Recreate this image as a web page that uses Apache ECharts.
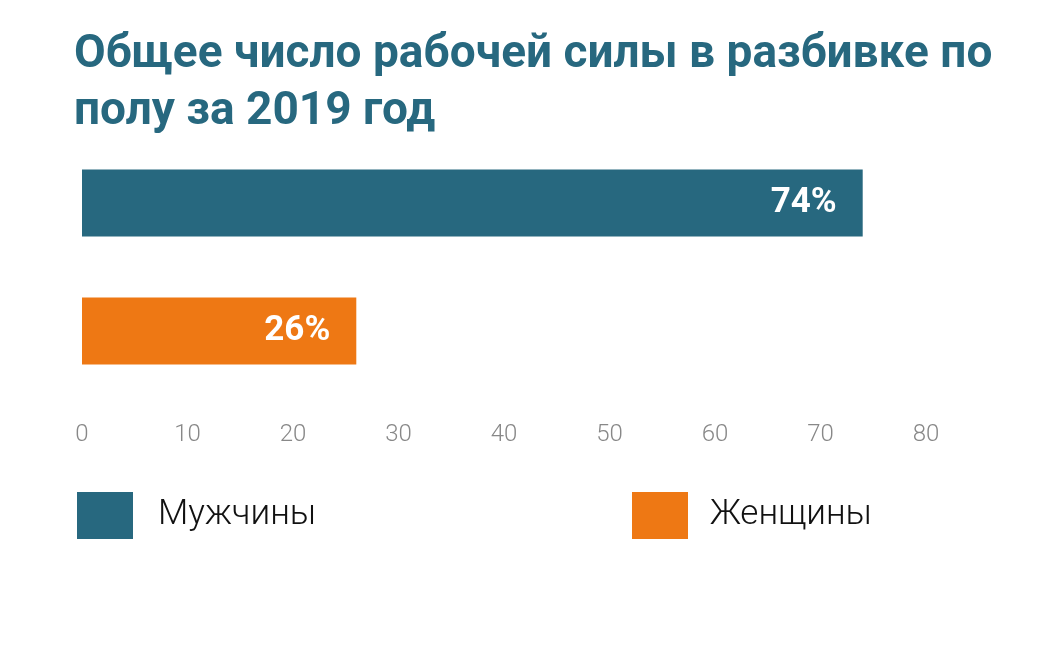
<!DOCTYPE html>
<html>
<head>
<meta charset="utf-8">
<script src="https://cdn.jsdelivr.net/npm/echarts@6/dist/echarts.min.js"></script>
<style>
  html, body { margin: 0; padding: 0; background: #fff; }
  #chart { width: 1058px; height: 654px; }
</style>
</head>
<body>
<div id="chart"></div>
<script>
// данные
var categories = ['Мужчины', 'Женщины'];
var shares = [74, 26];
var barColors = ['#27687f', '#ee7814'];
var titleText = 'Общее число рабочей силы в разбивке по\nполу за 2019 год';

var chart = echarts.init(document.getElementById('chart'));

// одна серия на категорию, чтобы легенда показывала обе
var series = [];
for (var i = 0; i < categories.length; i++) {
  var d = [];
  for (var j = 0; j < categories.length; j++) {
    d.push(i === j ? shares[i] : '-');
  }
  series.push({
    name: categories[i],
    type: 'bar',
    stack: 'all',
    barWidth: 67,
    data: d,
    itemStyle: { color: barColors[i] },
    label: {
      show: true,
      position: 'insideRight',
      distance: 26,
      formatter: '{c}%',
      color: '#fff',
      fontSize: 35,
      fontWeight: 'bold',
      fontFamily: 'Roboto'
    }
  });
}

function legendItem(name, left, pad) {
  return {
    data: [name],
    left: left,
    top: 487,
    itemWidth: 56,
    itemHeight: 47,
    itemGap: 0,
    icon: 'rect',
    textStyle: { fontSize: 35, color: '#111', fontFamily: 'Roboto', fontWeight: 300, padding: [0, 0, 0, pad] }
  };
}

var option = {
  animation: false,
  title: {
    text: titleText,
    left: 69,
    top: 22,
    textStyle: {
      color: '#27687f',
      fontSize: 46,
      fontWeight: 'bold',
      fontFamily: 'Roboto',
      lineHeight: 57
    }
  },
  legend: [
    legendItem(categories[0], 72, 20),
    legendItem(categories[1], 627, 17)
  ],
  grid: { left: 82, right: 132, top: 139, height: 256, containLabel: false },
  xAxis: {
    type: 'value',
    min: 0,
    max: 80,
    interval: 10,
    splitLine: { show: false },
    axisLine: { show: false },
    axisTick: { show: false },
    axisLabel: { color: '#888', fontSize: 24, fontFamily: 'Roboto', fontWeight: 300, margin: 28 }
  },
  yAxis: {
    type: 'category',
    data: categories,
    inverse: true,
    axisLine: { show: false },
    axisTick: { show: false },
    axisLabel: { show: false }
  },
  series: series
};

chart.setOption(option);
</script>
</body>
</html>
